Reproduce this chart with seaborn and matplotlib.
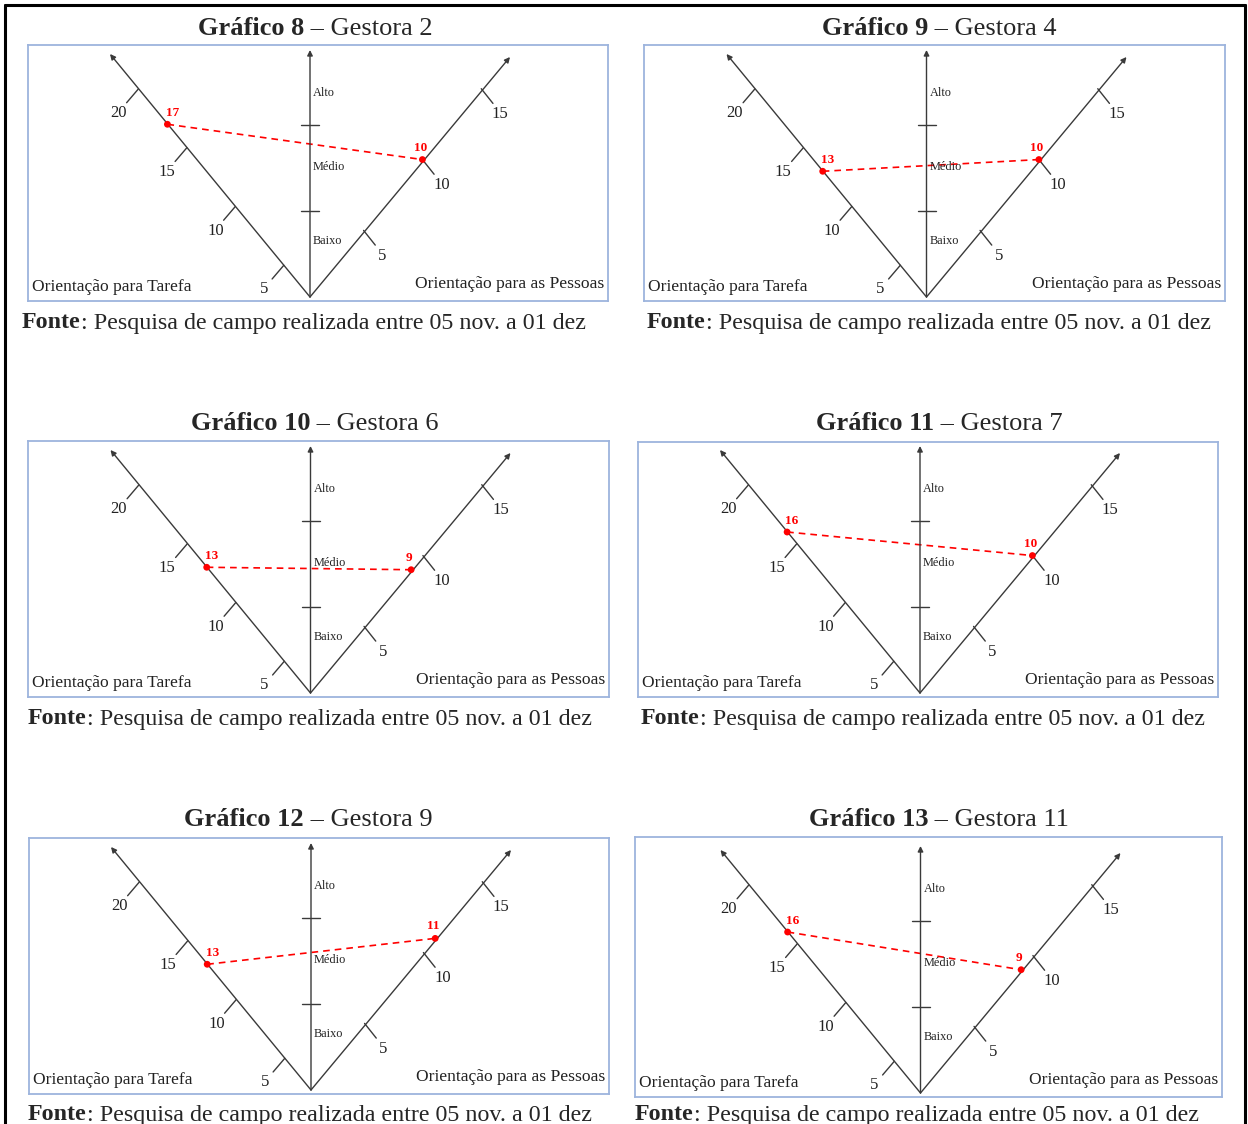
import matplotlib
matplotlib.use("Agg")
import matplotlib.pyplot as plt
import seaborn as sns
import pandas as pd
from matplotlib.lines import Line2D

# === DADOS ===
graficos = ["8", "9", "10", "11", "12", "13"]
gestoras = ["2", "4", "6", "7", "9", "11"]
orient_tarefa = [17, 13, 13, 16, 13, 16]
orient_pessoas = [10, 10, 9, 10, 11, 9]
ticks_tarefa = [5, 10, 15, 20]
ticks_pessoas = [5, 10, 15]
niveis = ["Alto", "Médio", "Baixo"]
fonte_txt = ": Pesquisa de campo realizada entre 05 nov. a 01 dez"

# === LAYOUT (pixels) ===
W, H = 1248, 1124
# caixa de cada painel: x0, y0, x1, y1
boxes = [(28, 45, 608, 301), (644, 45, 1225, 301),
         (28, 441, 609, 697), (638, 442, 1218, 697),
         (29, 838, 609, 1094), (635, 837, 1222, 1097)]
title_pos = [(315, 26), (939, 26), (315, 421), (939, 421), (308, 817), (939, 817)]
fonte_pos = [(22, 321), (647, 321), (28, 717), (641, 717), (28, 1113), (635, 1113)]

SERIF = "Liberation Serif"
LINE = "#3a3a3a"
BORDER = "#9db4dd"
TXT = "#222222"

sns.set_style("white")
plt.rcParams["font.family"] = [SERIF, "DejaVu Serif"]

fig = plt.figure(figsize=(W / 100, H / 100), dpi=100)
renderer = fig.canvas.get_renderer()


def left_pt(vx, vy, v):
    return vx - 9.7 * (v - 2.3), vy - 11.75 * (v - 2.3)


def right_pt(vx, vy, v):
    return vx + 11.77 * (v - 0.45), vy - 14.17 * (v - 0.3)


def two_part_text(x, y_base, bold, normal, size, center=False):
    # texto com uma parte em negrito seguida de parte normal (coordenadas em pixels)
    yb = 1 - y_base / H
    tb = fig.text(x / W, yb, bold, fontsize=size, fontweight="bold", ha="left", va="baseline")
    tn = fig.text(x / W, yb, normal, fontsize=size, ha="left", va="baseline")
    wb = tb.get_window_extent(renderer).width
    wn = tn.get_window_extent(renderer).width
    start = x - (wb + wn) / 2 if center else x
    tb.set_x(start / W)
    tn.set_x((start + wb) / W)


def draw_panel(i):
    x0, y0, x1, y1 = boxes[i]
    w, h = x1 - x0, y1 - y0
    ax = fig.add_axes([x0 / W, 1 - y1 / H, w / W, h / H])
    ax.set_xlim(0, w)
    ax.set_ylim(h, 0)
    ax.set_xticks([])
    ax.set_yticks([])
    for sp in ax.spines.values():
        sp.set_color(BORDER)
        sp.set_linewidth(1.3)

    vx, vy = 282 + (w - 580) / 2, h - 4

    # eixos
    arrow = dict(arrowstyle="-|>", color=LINE, lw=1.0, mutation_scale=8, shrinkA=0, shrinkB=0)
    ax.annotate("", xy=(vx - 200, vy - 243), xytext=(vx, vy), arrowprops=arrow)
    ax.annotate("", xy=(vx + 200, vy - 240), xytext=(vx, vy), arrowprops=arrow)
    ax.annotate("", xy=(vx, vy - 247), xytext=(vx, vy), arrowprops=arrow)

    # eixo central
    for dy in (172, 86):
        ax.plot([vx - 9, vx + 9], [vy - dy, vy - dy], color=LINE, lw=1.0)
    for lab, dy in zip(niveis, (204, 130, 56)):
        ax.text(vx + 3, vy - dy, lab, fontsize=8.8, ha="left", va="center", color=TXT)

    # marcas
    for t in ticks_tarefa:
        px, py = left_pt(vx, vy, t)
        ax.plot([px, px - 11.7], [py, py + 13.7], color=LINE, lw=1.0)
        ax.text(px - 20, py + 24, str(t), fontsize=12, ha="center", va="center", color=TXT)
    for t in ticks_pessoas:
        px, py = right_pt(vx, vy, t)
        ax.plot([px, px + 11.7], [py, py + 14.7], color=LINE, lw=1.0)
        ax.text(px + 19, py + 25.5, str(t), fontsize=12, ha="center", va="center", color=TXT)

    # pontos
    lx, ly = left_pt(vx, vy, orient_tarefa[i])
    rx, ry = right_pt(vx, vy, orient_pessoas[i])
    df = pd.DataFrame({"x": [lx, rx], "y": [ly, ry]})
    sns.lineplot(data=df, x="x", y="y", ax=ax, color="red", lw=1.2, linestyle=(0, (4, 3)), sort=False)
    sns.scatterplot(data=df, x="x", y="y", ax=ax, color="red", s=24, edgecolor="none", zorder=5)
    ax.text(lx + 5, ly - 11, str(orient_tarefa[i]), fontsize=9.5, fontweight="bold",
            color="red", ha="center", va="center")
    ax.text(rx - 2, ry - 12, str(orient_pessoas[i]), fontsize=9.5, fontweight="bold",
            color="red", ha="center", va="center")
    ax.set_xlabel("")
    ax.set_ylabel("")

    ax.text(4, h - 14, "Orientação para Tarefa", fontsize=12.6, ha="left", va="center", color=TXT)
    ax.text(w - 4, h - 17, "Orientação para as Pessoas", fontsize=12.6, ha="right", va="center",
            color=TXT)

    # titulo e fonte
    tx, ty = title_pos[i]
    two_part_text(tx, ty + 9, f"Gráfico {graficos[i]}", f" – Gestora {gestoras[i]}", 19, center=True)
    fx, fy = fonte_pos[i]
    two_part_text(fx, fy + 7.5, "Fonte", fonte_txt, 17.3)


for i in range(len(graficos)):
    draw_panel(i)

# moldura da pagina
for xs, ys in [((5, 1245), (5, 5)), ((5, 5), (5, 1124)), ((1245, 1245), (5, 1124))]:
    fig.add_artist(Line2D([x / W for x in xs], [1 - y / H for y in ys], color="black", lw=2.2))

fig.savefig("out.png", dpi=100)
